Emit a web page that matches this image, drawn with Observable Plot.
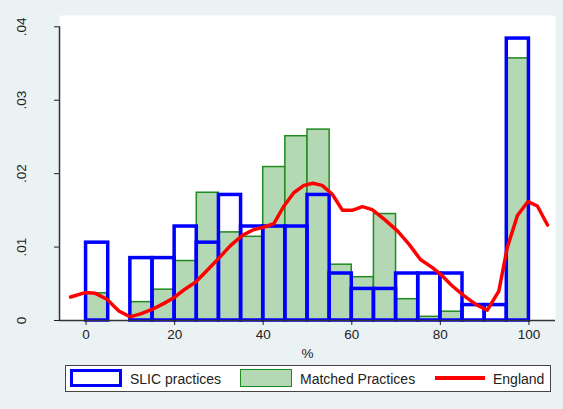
<!DOCTYPE html>
<html>
<head>
<meta charset="utf-8">
<script src="https://cdn.jsdelivr.net/npm/d3@7"></script>
<script src="https://cdn.jsdelivr.net/npm/@observablehq/plot@0.6"></script>
<style>
  body { margin: 0; background: #eaf2f3; font-family: "Liberation Sans", Arial, sans-serif; }
  #wrap { position: relative; width: 563px; height: 409px; background: #eaf2f3; overflow: hidden; }
  #chart svg { display: block; }
  #legend { position: absolute; left: 65px; top: 365px; width: 484px; height: 25px; background: #fff; border: 1px solid #444; font-size: 14px; color: #222; }
  .item { position: absolute; top: 0; height: 25px; line-height: 26px; }
  .sw { position: absolute; box-sizing: border-box; }
</style>
</head>
<body>
<div id="wrap">
  <div id="chart"></div>
  <div id="legend">
    <div class="sw" style="left:4px;top:3px;width:52px;height:18px;border:3.5px solid #0000ff;background:#fff;"></div>
    <div class="item" style="left:64px;">SLIC practices</div>
    <div class="sw" style="left:174px;top:3px;width:52px;height:18px;border:1.5px solid #1f8a1f;background:#b4d8b4;"></div>
    <div class="item" style="left:234px;">Matched Practices</div>
    <div class="sw" style="left:369px;top:10px;width:50px;height:4px;background:#ff0000;"></div>
    <div class="item" style="left:427px;">England</div>
  </div>
</div>
<script>
// Histogram bins (start of each 5%-wide bin)
const binStart = [0, 5, 10, 15, 20, 25, 30, 35, 40, 45, 50, 55, 60, 65, 70, 75, 80, 85, 90, 95];
const binWidth = 5;
// SLIC practices density
const slicDensity = [0.0106, 0, 0.0085, 0.0085, 0.0128, 0.0106, 0.0171, 0.0128, 0.0128, 0.0128,
                     0.0171, 0.0064, 0.0043, 0.0043, 0.0064, 0.0064, 0.0064, 0.0021, 0.0021, 0.0384];
// Matched practices density
const matchedDensity = [0.0037, 0, 0.0025, 0.0042, 0.0081, 0.0174, 0.0120, 0.0114, 0.0209, 0.0251,
                        0.0260, 0.0076, 0.0059, 0.0145, 0.0029, 0.0005, 0.0012, 0, 0, 0.0357];
// England density curve
const englandX = [-3.5, -0.2, 2.1, 4.7, 7.4, 9.9, 12.3, 14.9, 17.5, 19.8, 22.4, 24.7, 27.3, 30.0, 32.6,
                  35.3, 37.9, 40.1, 42.4, 44.7, 46.9, 49.2, 51.2, 53.3, 55.6, 57.9, 60.1, 62.4, 64.6,
                  67.3, 70.3, 72.9, 75.5, 78.2, 80.4, 82.7, 85.3, 88.0, 90.6, 93.2, 95.1, 97.4, 99.8,
                  101.9, 104.2];
const englandY = [0.0032, 0.0038, 0.0037, 0.0029, 0.0013, 0.0005, 0.0009, 0.0015, 0.0023, 0.0031, 0.0043,
                  0.0052, 0.0068, 0.0085, 0.0102, 0.0116, 0.0124, 0.0127, 0.0132, 0.0156, 0.0174, 0.0184,
                  0.0187, 0.0184, 0.0172, 0.0150, 0.0150, 0.0155, 0.0151, 0.0138, 0.0122, 0.0104, 0.0083,
                  0.0072, 0.0061, 0.0047, 0.0034, 0.0022, 0.0014, 0.0040, 0.0099, 0.0143, 0.0162,
                  0.0156, 0.0130];
const xTicks = [0, 20, 40, 60, 80, 100];
const yTicks = [0, 0.01, 0.02, 0.03, 0.04];
const yTickLabels = ["0", ".01", ".02", ".03", ".04"];

const slic = binStart.map((b, i) => ({x1: b, x2: b + binWidth, v: slicDensity[i]})).filter(d => d.v > 0);
const matched = binStart.map((b, i) => ({x1: b, x2: b + binWidth, v: matchedDensity[i]})).filter(d => d.v > 0);
const england = englandX.map((x, i) => ({x, y: englandY[i]}));

const chart = Plot.plot({
  width: 563,
  height: 360,
  marginLeft: 59,
  marginRight: 8,
  marginTop: 15,
  marginBottom: 40,
  style: {background: "transparent", fontFamily: "'Liberation Sans', Arial, sans-serif", fontSize: "13.5px", color: "#222"},
  x: {domain: [-6, 106]},
  y: {domain: [0, 0.04154]},
  marks: [
    Plot.frame({fill: "white", stroke: null}),
    Plot.rectY(matched, {x1: "x1", x2: "x2", y: "v", fill: "#b4d8b4", stroke: "#1f8a1f", strokeWidth: 1.5}),
    Plot.rectY(slic, {x1: "x1", x2: "x2", y: "v", fill: "none", stroke: "#0000ff", strokeWidth: 3.5}),
    Plot.line(england, {x: "x", y: "y", stroke: "#ff0000", strokeWidth: 3.5, strokeLinejoin: "round"}),
    Plot.ruleY([0], {stroke: "#333", strokeWidth: 1.5}),
    Plot.ruleX([-6], {y1: 0, y2: 0.04, stroke: "#333", strokeWidth: 1.5}),
    Plot.axisX({ticks: xTicks, tickSize: 5, tickPadding: 4, label: "%", labelAnchor: "center", labelArrow: "none", labelOffset: 37}),
    Plot.axisY({ticks: yTicks, tickFormat: d => yTickLabels[yTicks.indexOf(d)], tickSize: 5, tickRotate: -90, tickPadding: 29, label: null})
  ]
});
document.getElementById("chart").appendChild(chart);
</script>
</body>
</html>
